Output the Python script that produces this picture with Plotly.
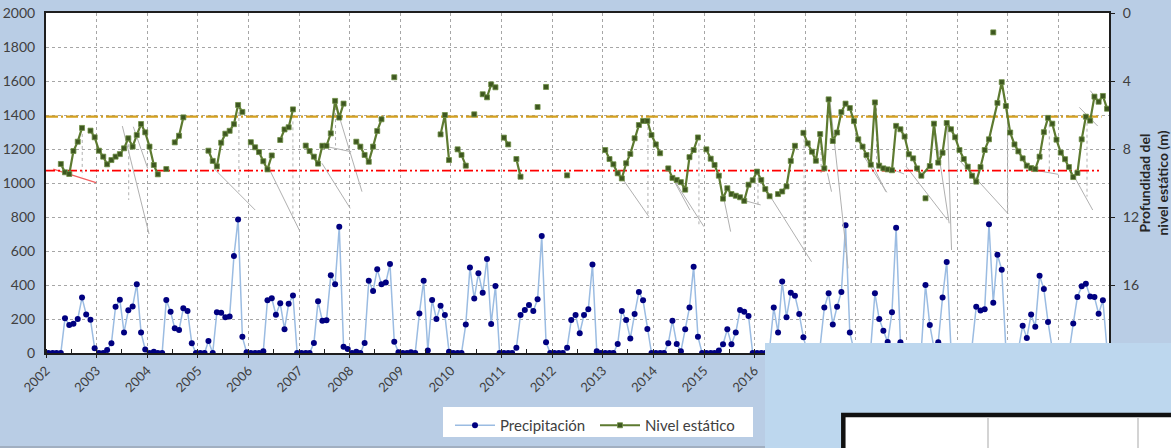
import pandas as pd
import plotly.graph_objects as go

# ---------------- data ----------------
years = list(range(2002, 2023))

# monthly precipitation (left axis), Jan..Dec
precipitacion = {
    2002: [0, 0, 0, 0, 204, 165, 172, 200, 326, 227, 195, 28],
    2003: [0, 0, 18, 57, 272, 313, 121, 251, 274, 405, 120, 20],
    2004: [0, 8, 0, 0, 312, 243, 145, 135, 263, 247, 57, 0],
    2005: [0, 0, 70, 0, 240, 237, 210, 215, 570, 786, 95, 5],
    2006: [0, 0, 0, 10, 310, 322, 225, 292, 140, 290, 338, 0],
    2007: [0, 0, 0, 59, 304, 189, 192, 457, 404, 743, 37, 23],
    2008: [0, 8, 0, 59, 425, 365, 492, 404, 415, 523, 66, 5],
    2009: [0, 0, 5, 0, 233, 425, 15, 312, 200, 278, 224, 8],
    2010: [0, 0, 0, 168, 503, 320, 469, 355, 553, 171, 394, 0],
    2011: [0, 0, 0, 31, 224, 253, 282, 247, 316, 688, 63, 0],
    2012: [0, 0, 0, 31, 194, 224, 116, 224, 257, 521, 10, 0],
    2013: [0, 0, 0, 53, 247, 194, 86, 229, 359, 310, 141, 0],
    2014: [0, 0, 0, 57, 190, 53, 10, 139, 267, 508, 96, 0],
    2015: [0, 0, 0, 15, 51, 139, 51, 120, 253, 243, 218, 0],
    2016: [0, 0, 0, 25, 267, 120, 420, 210, 355, 337, 229, 92],
    2017: [0, 0, 0, 40, 267, 351, 168, 272, 359, 751, 120, 15],
    2018: [0, 0, 0, 30, 351, 200, 131, 64, 239, 737, 63, 0],
    2019: [0, 0, 0, 25, 400, 165, 30, 63, 327, 536, 20, 0],
    2020: [0, 0, 0, 40, 272, 250, 258, 757, 296, 578, 490, 20],
    2021: [0, 0, 20, 161, 88, 227, 155, 454, 376, 183, 20, 0],
    2022: [0, 0, 0, 173, 329, 392, 408, 333, 329, 231, 310, 20],
}

# monthly static level depth in m (right axis, reversed), Jan..Dec; None = no reading
nivel = {
    2002: [None, None, None, 8.88, 9.37, 9.47, 8.12, 7.57, 6.76, None, 6.92, 7.31],
    2003: [8.10, 8.45, 8.90, 8.65, 8.45, 8.30, 7.96, 7.37, 7.86, 7.18, 6.53, 7.02],
    2004: [7.86, 8.94, 9.49, None, 9.18, None, 7.61, 7.22, 6.14, None, None, None],
    2005: [None, None, 8.10, 8.70, 9.02, 7.63, 7.10, 6.93, 6.54, 5.41, 5.82, None],
    2006: [7.60, 7.90, 8.18, 8.72, 9.20, 8.38, None, 7.47, 6.85, 6.72, 5.67, None],
    2007: [None, 7.80, 8.12, 8.45, 8.86, 7.81, 7.81, 7.08, 5.17, 6.15, 5.33, None],
    2008: [None, 7.57, 7.86, 8.35, 8.75, 7.86, 6.94, 6.25, None, None, 3.78, None],
    2009: [None, None, None, None, None, None, None, None, None, 7.14, 6.00, 8.65],
    2010: [None, 8.02, 8.35, 8.98, None, 5.96, None, 4.78, 4.96, 4.20, 4.37, None],
    2011: [7.33, 7.73, None, 8.59, 9.63, None, None, None, 5.53, None, 4.35, None],
    2012: [None, None, None, 9.55, None, None, None, None, None, None, None, None],
    2013: [8.06, 8.59, 8.90, 9.43, 9.73, 8.84, 8.29, 7.37, 6.59, 6.35, 6.35, 7.18],
    2014: [7.73, 8.25, None, 9.14, 9.70, 9.82, 9.95, 10.39, 8.48, 8.06, 7.32, None],
    2015: [8.02, 8.57, 8.94, 9.57, 10.92, 10.31, 10.65, 10.75, 10.84, 11.05, 10.10, 9.84],
    2016: [9.33, 9.82, 10.36, 10.78, None, 10.65, 10.50, 10.20, 8.70, 7.81, None, 7.05],
    2017: [7.67, 8.16, 8.69, 7.12, 9.14, 5.08, 7.53, 7.03, 5.83, 5.33, 5.59, 6.36],
    2018: [7.43, 7.86, 8.35, 8.92, 5.26, 8.98, 9.14, 9.20, 9.25, 6.64, 6.84, 7.27],
    2019: [8.31, 8.55, 9.14, 9.57, 10.90, 9.00, 6.51, 8.80, 8.22, 6.47, 6.84, 7.31],
    2020: [8.06, 8.59, 9.04, 9.57, 9.92, 9.06, 8.06, 7.43, 1.14, 5.29, 4.07, 5.47],
    2021: [7.03, 7.73, 8.14, 8.55, 8.98, 9.12, 9.18, 8.45, 7.01, 6.17, 6.51, 7.45],
    2022: [8.21, 8.60, 9.06, 9.65, 9.41, 7.43, 6.10, 6.33, 4.92, 5.22, 4.88, 5.63],
}
# readings drawn as loose points (not joined to the line)
nivel_sueltos = [(2019, 5), (2020, 9)]

# reference levels (depth, m)
nivel_superior = 6.1
nivel_inferior = 9.27

# thin grey guide lines (decimal year, depth)
guias_diagonales = [
    (2003.509, 6.65, 2004.037, 13.0), (2003.726, 6.69, 2004.011, 9.14),
    (2005.328, 9.18, 2006.133, 11.59), (2006.404, 9.14, 2007.009, 12.8),
    (2007.452, 8.84, 2008.011, 11.49), (2007.715, 5.31, 2008.243, 10.51),
    (2007.452, 7.80, 2008.031, 8.16), (2013.384, 9.73, 2013.910, 11.98),
    (2014.373, 9.69, 2014.721, 11.59), (2014.405, 9.82, 2014.998, 12.57),
    (2015.393, 10.94, 2015.526, 12.86), (2015.757, 11.00, 2016.119, 11.29),
    (2016.311, 10.80, 2017.122, 14.63), (2017.438, 9.43, 2017.517, 10.51),
    (2017.483, 5.08, 2017.845, 15.02), (2018.328, 8.94, 2018.591, 10.51),
    (2018.755, 9.24, 2018.952, 9.47), (2018.162, 8.45, 2018.611, 10.55),
    (2018.986, 9.00, 2019.811, 12.18), (2019.546, 6.49, 2019.843, 12.37),
    (2019.811, 6.59, 2019.890, 13.94), (2020.040, 8.65, 2021.009, 11.82),
    (2021.444, 9.20, 2021.998, 9.49), (2022.314, 9.63, 2022.678, 11.59),
    (2022.413, 5.55, 2022.777, 6.65), (2022.631, 4.57, 2022.829, 5.35),
]
guias_verticales = [
    (2002.716, 6.76, 9.60), (2003.635, 7.37, 11.0), (2005.811, 5.47, 10.51),
    (2006.878, 5.67, 12.08), (2007.721, 5.18, 7.80), (2013.891, 6.35, 11.98),
    (2014.899, 7.31, 12.57), (2016.066, 9.33, 11.29), (2016.975, 7.08, 14.04),
    (2017.311, 7.12, 9.43), (2018.407, 5.25, 8.94), (2020.997, 5.47, 11.82),
    (2021.820, 6.20, 9.24), (2022.565, 6.10, 10.80),
]
guia_roja = (2002.144, 9.18, 2002.989, 9.98)

# ---------------- helpers ----------------
def month_date(y, m):
    return pd.Timestamp(year=y, month=m, day=18)

def yr(d):
    base = int(d)
    start = pd.Timestamp(year=base, month=1, day=1)
    end = pd.Timestamp(year=base + 1, month=1, day=1)
    return start + (end - start) * (d - base)

dates, prec_vals = [], []
niv_x, niv_y = [], []
for y in years:
    for m in range(1, 13):
        d = month_date(y, m)
        dates.append(d)
        prec_vals.append(precipitacion[y][m - 1])
        if (y, m) in nivel_sueltos:
            continue
        niv_x.append(d)
        niv_y.append(nivel[y][m - 1])
sx = [month_date(y, m) for (y, m) in nivel_sueltos]
sy = [nivel[y][m - 1] for (y, m) in nivel_sueltos]

gx, gy = [], []
for (x0, y0, x1, y1) in guias_diagonales:
    gx += [yr(x0), yr(x1), None]
    gy += [y0, y1, None]
vx, vy = [], []
for (x0, y0, y1) in guias_verticales:
    vx += [yr(x0), yr(x0), None]
    vy += [y0, y1, None]

FONT = "Lato"
TXT = "#404040"
GREEN_LINE = "#5D7A30"
GREEN_MARK = "#3E5720"

fig = go.Figure()

# guide lines
fig.add_trace(go.Scatter(x=gx, y=gy, yaxis="y2", mode="lines",
                         line=dict(color="#B0B0B0", width=1), showlegend=False, hoverinfo="skip"))
fig.add_trace(go.Scatter(x=vx, y=vy, yaxis="y2", mode="lines",
                         line=dict(color="#B0B0B0", width=1, dash="dot"), showlegend=False, hoverinfo="skip"))
fig.add_trace(go.Scatter(x=[yr(guia_roja[0]), yr(guia_roja[2])], y=[guia_roja[1], guia_roja[3]],
                         yaxis="y2", mode="lines", line=dict(color="#F06060", width=1.2),
                         showlegend=False, hoverinfo="skip"))

# precipitation
fig.add_trace(go.Scatter(x=dates, y=prec_vals, name="Precipitación", mode="lines+markers",
                         line=dict(color="#9BBCE2", width=1.5),
                         marker=dict(color="#000080", size=6, symbol="circle")))

# reference levels
ref_x = [pd.Timestamp("2002-01-01"), pd.Timestamp("2022-11-08")]
fig.add_trace(go.Scatter(x=ref_x, y=[nivel_superior] * 2, yaxis="y2", mode="lines",
                         line=dict(color="#D4A020", width=2.2, dash="12px,3px,2px,3px"),
                         showlegend=False, hoverinfo="skip"))
fig.add_trace(go.Scatter(x=ref_x, y=[nivel_inferior] * 2, yaxis="y2", mode="lines",
                         line=dict(color="#FF0000", width=1.8, dash="9px,3px,2px,3px,2px,3px"),
                         showlegend=False, hoverinfo="skip"))

# static level
fig.add_trace(go.Scatter(x=niv_x, y=niv_y, yaxis="y2", name="Nivel estático", mode="lines+markers",
                         connectgaps=False,
                         line=dict(color=GREEN_LINE, width=2.2),
                         marker=dict(color=GREEN_MARK, size=5, symbol="square",
                                     line=dict(color="#6F8F45", width=0.8))))
fig.add_trace(go.Scatter(x=sx, y=sy, yaxis="y2", mode="markers", showlegend=False,
                         marker=dict(color=GREEN_MARK, size=5, symbol="square",
                                     line=dict(color="#6F8F45", width=0.8))))

# ---------------- layout ----------------
L, R, T, B = 46, 62, 13, 95
W, H = 1171, 448
pw, ph = W - L - R, H - T - B


def px(x):
    return (x - L) / pw


def py(y):
    return (H - B - y) / ph


axis_line = "#1E1E1E"
grid = "#A6A6A6"

fig.update_layout(
    width=W, height=H,
    margin=dict(l=L, r=R, t=T, b=B, autoexpand=False),
    paper_bgcolor="#B9CDE5",
    plot_bgcolor="white",
    font=dict(family=FONT, size=13, color=TXT),
    xaxis=dict(type="date", range=["2002-01-01", "2023-01-01"], dtick="M12", tick0="2002-01-01",
               tickformat="%Y", tickangle=-45, showgrid=True, gridcolor=grid, griddash="dot",
               gridwidth=1, showline=True, linecolor=axis_line, linewidth=2, mirror=True,
               ticks="outside", ticklen=3, tickcolor=axis_line, zeroline=False,
               minor=dict(ticks="inside", ticklen=4, dtick="M6", tickcolor=axis_line, showgrid=False),
               tickfont=dict(family=FONT, size=13, color=TXT)),
    yaxis=dict(range=[0, 2000], dtick=200, showgrid=True, gridcolor=grid, griddash="dot",
               gridwidth=1, showline=True, linecolor=axis_line, linewidth=2, mirror=True,
               zeroline=False, ticks="", ticklabelstandoff=6,
               tickfont=dict(family=FONT, size=14, color=TXT)),
    yaxis2=dict(range=[20, 0], dtick=4, overlaying="y", side="right", showgrid=False,
                showline=True, linecolor=axis_line, linewidth=2, zeroline=False,
                ticks="outside", ticklen=4, tickcolor=axis_line, ticklabelstandoff=5,
                tickfont=dict(family=FONT, size=14, color=TXT),
                title=dict(text="<b>Profundidad del<br>nivel estático (m)</b>",
                           font=dict(family=FONT, size=14, color="#262626"), standoff=20)),
    legend=dict(orientation="h", x=px(450), y=py(409), xanchor="left", yanchor="top",
                bgcolor="rgba(0,0,0,0)", borderwidth=0, font=dict(family=FONT, size=15, color=TXT),
                itemwidth=40, entrywidth=90, tracegroupgap=0),
    showlegend=True,
)

shapes = [
    dict(type="line", xref="paper", yref="paper", x0=px(0), x1=px(770), y0=py(447), y1=py(447),
         line=dict(color="#9AA5B5", width=1.5), layer="above"),
    # legend box
    dict(type="rect", xref="paper", yref="paper", x0=px(443), x1=px(753), y0=py(407), y1=py(437),
         fillcolor="white", line=dict(width=0), layer="above"),
    # overlapping panel in the lower right
    dict(type="rect", xref="paper", yref="paper", x0=px(765), x1=px(1200), y0=py(343), y1=py(470),
         fillcolor="#BDD7EE", line=dict(width=0), layer="above"),
    dict(type="rect", xref="paper", yref="paper", x0=px(843.3), x1=px(1200), y0=py(415), y1=py(480),
         fillcolor="white", line=dict(color="#111111", width=4.5), layer="above"),
    dict(type="line", xref="paper", yref="paper", x0=px(988), x1=px(988), y0=py(418), y1=py(470),
         line=dict(color="#D4D4D4", width=2), layer="above"),
    dict(type="line", xref="paper", yref="paper", x0=px(1138), x1=px(1138), y0=py(418), y1=py(470),
         line=dict(color="#D4D4D4", width=2), layer="above"),
]
fig.update_layout(shapes=shapes)

fig.write_html("out.html",
               config={"displayModeBar": False},
               post_script="document.body.style.margin='0';document.body.style.padding='0';"
                           "document.body.style.overflow='hidden';")
